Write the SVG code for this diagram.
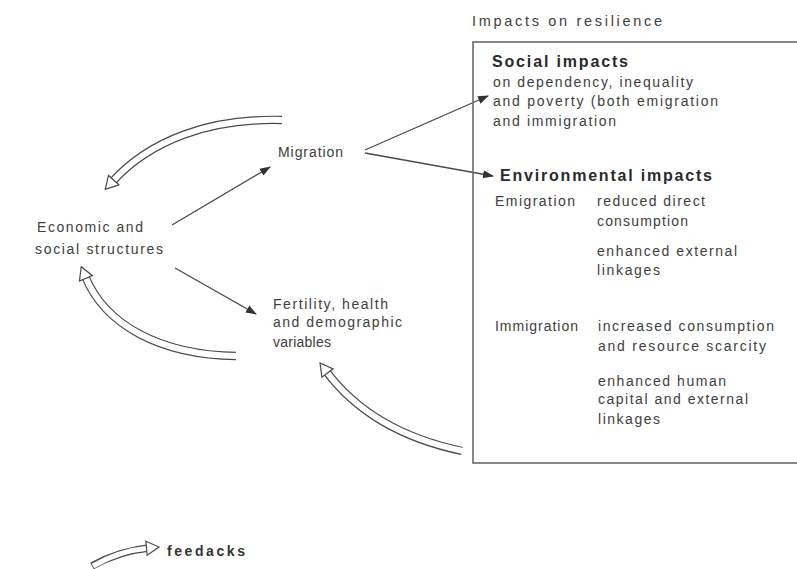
<svg xmlns="http://www.w3.org/2000/svg" width="797" height="569" viewBox="0 0 797 569">
<style>
  text { font-family: "Liberation Sans", Arial, sans-serif; fill: #404040; }
  .t { font-size: 14px; }
  .title { font-size: 14.5px; }
  .h { font-size: 16px; font-weight: bold; fill: #2a2a2a; }
  .leg { font-size: 14px; font-weight: bold; fill: #333; }
  .box { fill: none; stroke: #6a6a6a; stroke-width: 1.6; }
  .arrow { fill: none; stroke: #4a4a4a; stroke-width: 1.3; marker-end: url(#solid); }
  .fbo { fill: none; stroke: #4a4a4a; stroke-width: 8.4; }
  .fbi { fill: none; stroke: #ffffff; stroke-width: 6; marker-end: url(#hollow); }
</style>
<defs>
  <marker id="solid" markerUnits="userSpaceOnUse" markerWidth="11" markerHeight="9" viewBox="0 0 11 9" refX="10" refY="4.5" orient="auto">
    <path d="M0,0.5 L11,4.5 L0,8.5 Z" fill="#333"/>
  </marker>
  <marker id="hollow" markerUnits="userSpaceOnUse" markerWidth="18" markerHeight="18" viewBox="0 0 18 18" refX="4" refY="9" orient="auto">
    <path d="M1.5,2 L14,9 L1.5,16 Z" fill="#fff" stroke="#4a4a4a" stroke-width="1.2" stroke-linejoin="miter"/>
  </marker>
</defs>
<rect width="797" height="569" fill="#ffffff"/>

<g id="connectors">
  <path class="arrow" d="M172,225 L270,167"/>
  <path class="arrow" d="M175,268 L256,314"/>
  <path class="arrow" d="M365,150 L488,96"/>
  <path class="arrow" d="M365,153 L493,176"/>
  <g id="feedback-top">
    <path class="fbo" d="M282,120 C210,118 150,140 112,182"/>
    <path class="fbi" d="M283,120 C210,118 150,140 112,182"/>
  </g>
  <g id="feedback-left">
    <path class="fbo" d="M236,356 C160,355 105,325 85,276"/>
    <path class="fbi" d="M237,356 C160,355 105,325 85,276"/>
  </g>
  <g id="feedback-right">
    <path class="fbo" d="M462,451 C400,438 355,410 326,371"/>
    <path class="fbi" d="M463,451 C400,438 355,410 326,371"/>
  </g>
</g>

<g id="node-economic">
  <text class="t" x="37" y="232" textLength="106">Economic and</text>
  <text class="t" x="35" y="254" textLength="128">social structures</text>
</g>
<g id="node-migration">
  <text class="t" x="278" y="157" textLength="65">Migration</text>
</g>
<g id="node-fertility">
  <text class="t" x="273" y="309" textLength="115">Fertility, health</text>
  <text class="t" x="273" y="327" textLength="129">and demographic</text>
  <text class="t" x="273" y="347" textLength="58">variables</text>
</g>

<g id="node-impacts">
  <text class="title" x="472" y="26" textLength="190">Impacts on resilience</text>
  <rect class="box" x="473" y="42" width="340" height="421"/>
  <g id="social-impacts">
    <text class="h" x="492" y="67" textLength="136">Social impacts</text>
    <text class="t" x="493" y="87" textLength="200">on dependency, inequality</text>
    <text class="t" x="493" y="106" textLength="225">and poverty (both emigration</text>
    <text class="t" x="493" y="126" textLength="123">and immigration</text>
  </g>
  <g id="environmental-impacts">
    <text class="h" x="500" y="181" textLength="212">Environmental impacts</text>
    <text class="t" x="495" y="206" textLength="80">Emigration</text>
    <text class="t" x="597" y="206" textLength="108">reduced direct</text>
    <text class="t" x="597" y="226" textLength="91">consumption</text>
    <text class="t" x="597" y="256" textLength="140">enhanced external</text>
    <text class="t" x="597" y="275" textLength="63">linkages</text>
    <text class="t" x="495" y="331" textLength="83">Immigration</text>
    <text class="t" x="598" y="331" textLength="176">increased consumption</text>
    <text class="t" x="598" y="351" textLength="168">and resource scarcity</text>
    <text class="t" x="598" y="386" textLength="128">enhanced human</text>
    <text class="t" x="598" y="404" textLength="150">capital and external</text>
    <text class="t" x="598" y="424" textLength="62">linkages</text>
  </g>
</g>

<g id="legend">
  <path class="fbo" d="M92,566 C110,556 128,550 149,548" style="stroke-width:7.4"/>
  <path class="fbi" d="M93,566 C110,556 128,550 149,548" style="stroke-width:5"/>
  <text class="leg" x="167" y="556" textLength="78">feedacks</text>
</g>
</svg>
